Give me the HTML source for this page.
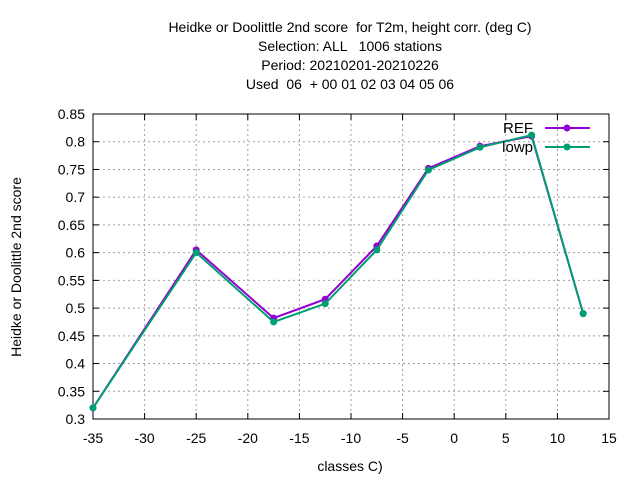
<!DOCTYPE html>
<html><head><meta charset="utf-8"><style>
body{margin:0;background:#fff;}
svg{display:block;font-family:"Liberation Sans",sans-serif;}
text{white-space:pre;}
</style></head><body>
<svg id="chart" width="640" height="480">
<g font-size="14" text-anchor="middle" fill="#000">
<text x="350" y="32">Heidke or Doolittle 2nd score  for T2m, height corr. (deg C)</text>
<text x="350" y="51">Selection: ALL   1006 stations</text>
<text x="350" y="70">Period: 20210201-20210226</text>
<text x="350" y="89">Used  06  + 00 01 02 03 04 05 06</text>
</g>
<text x="350" y="471" font-size="14" text-anchor="middle">classes C)</text>
<text transform="translate(21,267) rotate(-90)" font-size="14" text-anchor="middle">Heidke or Doolittle 2nd score</text>
<g id="grid"></g><g id="axes"></g><g id="series"></g>
</svg>
<script>
const categories=[-35,-25,-17.5,-12.5,-7.5,-2.5,2.5,7.5,12.5];
const refValues=[0.32,0.605,0.482,0.516,0.612,0.752,0.792,0.81,0.49];
const lowpValues=[0.32,0.60,0.475,0.508,0.605,0.749,0.79,0.812,0.49];
const xTicks=[-35,-30,-25,-20,-15,-10,-5,0,5,10,15];
const yTicks=[0.3,0.35,0.4,0.45,0.5,0.55,0.6,0.65,0.7,0.75,0.8,0.85];
const L=93,R=609,T=114,B=419;
const sx=v=>L+(v+35)/50*(R-L);
const sy=v=>B-(v-0.3)/0.55*(B-T);
const NS="http://www.w3.org/2000/svg";
function mk(t,a,p){const e=document.createElementNS(NS,t);for(const k in a)e.setAttribute(k,a[k]);p.appendChild(e);return e;}
const grid=document.getElementById('grid'),axes=document.getElementById('axes'),ser=document.getElementById('series');
xTicks.forEach(v=>{const x=sx(v);
 if(v>-35&&v<15){const g=mk('line',{x1:x,x2:x,y1:T,y2:B,stroke:'#a0a0a0','stroke-dasharray':'2,3'},grid);
 }
 mk('line',{x1:x,x2:x,y1:B,y2:B-6,stroke:'#000'},axes);mk('line',{x1:x,x2:x,y1:T,y2:T+6,stroke:'#000'},axes);
 const t=mk('text',{x:x,y:B+24,'font-size':14,'text-anchor':'middle'},axes);t.textContent=v;
 });
yTicks.forEach(v=>{const y=sy(v);
 if(v>0.3&&v<0.85){const g=mk('line',{x1:L,x2:R,y1:y,y2:y,stroke:'#a0a0a0','stroke-dasharray':'2,3'},grid);
 }
 mk('line',{x1:L,x2:L+6,y1:y,y2:y,stroke:'#000'},axes);mk('line',{x1:R,x2:R-6,y1:y,y2:y,stroke:'#000'},axes);
 const t=mk('text',{x:L-8,y:y+5,'font-size':14,'text-anchor':'end'},axes);t.textContent=String(v);
 });
const fr=mk('rect',{x:L,y:T,width:R-L,height:B-T,fill:'none',stroke:'#000'},axes);

function series(vals,color,name,ly,label){
 const pts=categories.map((c,i)=>sx(c)+','+sy(vals[i])).join(' ');
 const pl=mk('polyline',{points:pts,fill:'none',stroke:color,'stroke-width':2},ser);
 
 categories.forEach((c,i)=>{const p=mk('circle',{cx:sx(c),cy:sy(vals[i]),r:3.5,fill:color},ser);
  });
 const lg=mk('g',{},ser);
 const t=mk('text',{x:533,y:ly+5,'font-size':15,'text-anchor':'end'},lg);t.textContent=label;
 mk('line',{x1:545,x2:590,y1:ly,y2:ly,stroke:color,'stroke-width':2},lg);
 mk('circle',{cx:567,cy:ly,r:3.5,fill:color},lg);
}
series(refValues,'#9400d3','ref',128,'REF');
series(lowpValues,'#009e73','lowp',147,'lowp');
</script>
</body></html>
